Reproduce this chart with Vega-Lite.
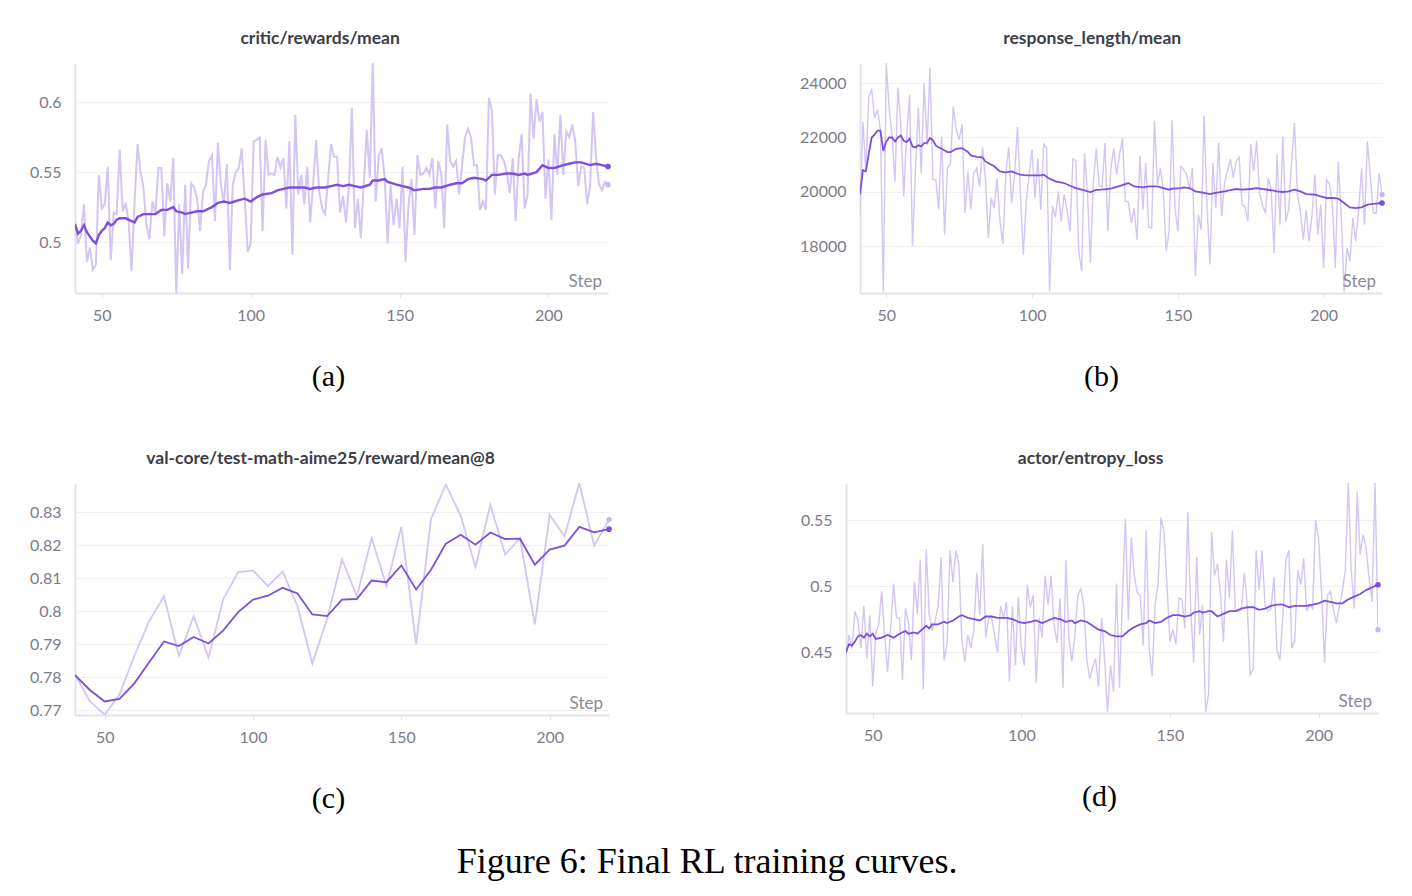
{
  "$schema": "https://vega.github.io/schema/vega-lite/v6.json",
  "background": "#ffffff",
  "padding": {"left": 29, "top": 29, "right": 10, "bottom": 10},
  "title": {"text": "Figure 6: Final RL training curves.", "orient": "bottom", "anchor": "middle", "font": "Liberation Serif", "fontSize": 36, "fontWeight": "normal", "color": "#000000", "offset": 32},
  "spacing": 58,
  "config": {
    "view": {"stroke": null},
    "axis": {"labelFont": "Lato", "labelFontSize": 16, "labelColor": "#7c7c87", "domainColor": "#e4e4e8", "domainWidth": 2, "gridColor": "#f0f0f2", "gridWidth": 1, "titleFont": "Liberation Serif", "titleFontSize": 30, "titleFontWeight": "normal", "titleColor": "#000000"},
    "axisX": {"grid": false, "ticks": true, "tickColor": "#e4e4e8", "tickSize": 5, "labelPadding": 9, "titleBaseline": "middle", "titleY": 83, "titleX": 253, "titleAlign": "center", "labelFlush": false},
    "axisY": {"grid": true, "ticks": false, "tickSize": 0, "labelPadding": 14},
    "title": {"font": "Lato", "fontSize": 17.5, "fontWeight": "bold", "color": "#3d3d47", "offset": 16, "anchor": "middle", "frame": "bounds"}
  },
  "datasets": {
    "aR": [{"s":41,"v":0.512},{"s":42,"v":0.499},{"s":43,"v":0.505},{"s":44,"v":0.527},{"s":45,"v":0.486},{"s":46,"v":0.496},{"s":47,"v":0.480},{"s":48,"v":0.484},{"s":49,"v":0.548},{"s":50,"v":0.524},{"s":51,"v":0.527},{"s":52,"v":0.554},{"s":53,"v":0.487},{"s":54,"v":0.521},{"s":55,"v":0.520},{"s":56,"v":0.566},{"s":57,"v":0.522},{"s":58,"v":0.528},{"s":59,"v":0.515},{"s":60,"v":0.479},{"s":61,"v":0.528},{"s":62,"v":0.570},{"s":63,"v":0.550},{"s":64,"v":0.539},{"s":65,"v":0.512},{"s":66,"v":0.502},{"s":67,"v":0.529},{"s":68,"v":0.520},{"s":69,"v":0.553},{"s":70,"v":0.553},{"s":71,"v":0.504},{"s":72,"v":0.542},{"s":73,"v":0.529},{"s":74,"v":0.560},{"s":75,"v":0.4636},{"s":76,"v":0.527},{"s":77,"v":0.477},{"s":78,"v":0.541},{"s":79,"v":0.481},{"s":80,"v":0.542},{"s":81,"v":0.539},{"s":82,"v":0.531},{"s":83,"v":0.508},{"s":84,"v":0.536},{"s":85,"v":0.541},{"s":86,"v":0.558},{"s":87,"v":0.562},{"s":88,"v":0.515},{"s":89,"v":0.571},{"s":90,"v":0.541},{"s":91,"v":0.528},{"s":92,"v":0.556},{"s":93,"v":0.480},{"s":94,"v":0.541},{"s":95,"v":0.550},{"s":96,"v":0.553},{"s":97,"v":0.567},{"s":98,"v":0.531},{"s":99,"v":0.493},{"s":100,"v":0.499},{"s":101,"v":0.572},{"s":102,"v":0.573},{"s":103,"v":0.575},{"s":104,"v":0.508},{"s":105,"v":0.573},{"s":106,"v":0.548},{"s":107,"v":0.549},{"s":108,"v":0.548},{"s":109,"v":0.561},{"s":110,"v":0.553},{"s":111,"v":0.560},{"s":112,"v":0.524},{"s":113,"v":0.572},{"s":114,"v":0.491},{"s":115,"v":0.591},{"s":116,"v":0.534},{"s":117,"v":0.548},{"s":118,"v":0.527},{"s":119,"v":0.554},{"s":120,"v":0.514},{"s":121,"v":0.542},{"s":122,"v":0.573},{"s":123,"v":0.536},{"s":124,"v":0.524},{"s":125,"v":0.520},{"s":126,"v":0.545},{"s":127,"v":0.570},{"s":128,"v":0.561},{"s":129,"v":0.561},{"s":130,"v":0.521},{"s":131,"v":0.533},{"s":132,"v":0.514},{"s":133,"v":0.539},{"s":134,"v":0.596},{"s":135,"v":0.510},{"s":136,"v":0.531},{"s":137,"v":0.503},{"s":138,"v":0.543},{"s":139,"v":0.580},{"s":140,"v":0.546},{"s":141,"v":0.628},{"s":142,"v":0.529},{"s":143,"v":0.562},{"s":144,"v":0.567},{"s":145,"v":0.546},{"s":146,"v":0.499},{"s":147,"v":0.541},{"s":148,"v":0.512},{"s":149,"v":0.531},{"s":150,"v":0.510},{"s":151,"v":0.554},{"s":152,"v":0.486},{"s":153,"v":0.527},{"s":154,"v":0.545},{"s":155,"v":0.505},{"s":156,"v":0.562},{"s":157,"v":0.548},{"s":158,"v":0.549},{"s":159,"v":0.553},{"s":160,"v":0.548},{"s":161,"v":0.560},{"s":162,"v":0.524},{"s":163,"v":0.558},{"s":164,"v":0.549},{"s":165,"v":0.510},{"s":166,"v":0.584},{"s":167,"v":0.558},{"s":168,"v":0.554},{"s":169,"v":0.558},{"s":170,"v":0.534},{"s":171,"v":0.555},{"s":172,"v":0.575},{"s":173,"v":0.581},{"s":174,"v":0.575},{"s":175,"v":0.555},{"s":176,"v":0.555},{"s":177,"v":0.523},{"s":178,"v":0.529},{"s":179,"v":0.523},{"s":180,"v":0.603},{"s":181,"v":0.594},{"s":182,"v":0.534},{"s":183,"v":0.562},{"s":184,"v":0.562},{"s":185,"v":0.558},{"s":186,"v":0.550},{"s":187,"v":0.535},{"s":188,"v":0.560},{"s":189,"v":0.515},{"s":190,"v":0.560},{"s":191,"v":0.577},{"s":192,"v":0.524},{"s":193,"v":0.534},{"s":194,"v":0.606},{"s":195,"v":0.574},{"s":196,"v":0.602},{"s":197,"v":0.586},{"s":198,"v":0.593},{"s":199,"v":0.531},{"s":200,"v":0.559},{"s":201,"v":0.516},{"s":202,"v":0.577},{"s":203,"v":0.548},{"s":204,"v":0.591},{"s":205,"v":0.548},{"s":206,"v":0.579},{"s":207,"v":0.575},{"s":208,"v":0.584},{"s":209,"v":0.572},{"s":210,"v":0.540},{"s":211,"v":0.554},{"s":212,"v":0.553},{"s":213,"v":0.527},{"s":214,"v":0.541},{"s":215,"v":0.593},{"s":216,"v":0.560},{"s":217,"v":0.541},{"s":218,"v":0.537},{"s":219,"v":0.543},{"s":220,"v":0.541}],
    "aS": [{"s":41,"v":0.513},{"s":42,"v":0.506},{"s":43,"v":0.508},{"s":44,"v":0.512},{"s":45,"v":0.507},{"s":46,"v":0.504},{"s":47,"v":0.501},{"s":48,"v":0.499},{"s":49,"v":0.505},{"s":50,"v":0.508},{"s":51,"v":0.510},{"s":52,"v":0.514},{"s":53,"v":0.512},{"s":54,"v":0.513},{"s":55,"v":0.516},{"s":56,"v":0.517},{"s":58,"v":0.517},{"s":60,"v":0.515},{"s":61,"v":0.514},{"s":62,"v":0.518},{"s":64,"v":0.520},{"s":65,"v":0.520},{"s":68,"v":0.520},{"s":70,"v":0.523},{"s":72,"v":0.523},{"s":74,"v":0.525},{"s":75,"v":0.522},{"s":77,"v":0.521},{"s":78,"v":0.520},{"s":80,"v":0.521},{"s":82,"v":0.522},{"s":84,"v":0.522},{"s":87,"v":0.525},{"s":89,"v":0.528},{"s":91,"v":0.529},{"s":93,"v":0.528},{"s":96,"v":0.530},{"s":98,"v":0.531},{"s":100,"v":0.529},{"s":102,"v":0.532},{"s":104,"v":0.534},{"s":107,"v":0.535},{"s":109,"v":0.537},{"s":111,"v":0.538},{"s":113,"v":0.539},{"s":116,"v":0.539},{"s":118,"v":0.539},{"s":120,"v":0.538},{"s":122,"v":0.539},{"s":125,"v":0.539},{"s":127,"v":0.540},{"s":129,"v":0.541},{"s":131,"v":0.540},{"s":133,"v":0.541},{"s":135,"v":0.540},{"s":137,"v":0.539},{"s":140,"v":0.541},{"s":141,"v":0.544},{"s":143,"v":0.544},{"s":145,"v":0.545},{"s":146,"v":0.543},{"s":149,"v":0.541},{"s":151,"v":0.540},{"s":153,"v":0.539},{"s":155,"v":0.537},{"s":158,"v":0.538},{"s":160,"v":0.538},{"s":162,"v":0.539},{"s":164,"v":0.539},{"s":167,"v":0.541},{"s":169,"v":0.542},{"s":171,"v":0.542},{"s":173,"v":0.545},{"s":175,"v":0.546},{"s":178,"v":0.545},{"s":179,"v":0.544},{"s":181,"v":0.548},{"s":183,"v":0.548},{"s":186,"v":0.549},{"s":188,"v":0.549},{"s":190,"v":0.548},{"s":192,"v":0.549},{"s":193,"v":0.548},{"s":196,"v":0.550},{"s":198,"v":0.555},{"s":200,"v":0.553},{"s":202,"v":0.553},{"s":205,"v":0.555},{"s":207,"v":0.556},{"s":209,"v":0.557},{"s":211,"v":0.557},{"s":214,"v":0.555},{"s":216,"v":0.556},{"s":218,"v":0.555},{"s":220,"v":0.554}],
    "bR": [{"s":41,"v":19160},{"s":42,"v":22590},{"s":43,"v":20750},{"s":44,"v":23510},{"s":45,"v":23755},{"s":46,"v":22715},{"s":47,"v":23020},{"s":48,"v":22285},{"s":49,"v":16340},{"s":50,"v":24735},{"s":51,"v":23080},{"s":52,"v":22100},{"s":53,"v":20390},{"s":54,"v":23840},{"s":55,"v":22470},{"s":56,"v":19835},{"s":57,"v":22100},{"s":58,"v":23570},{"s":59,"v":18000},{"s":60,"v":20750},{"s":61,"v":23105},{"s":62,"v":20690},{"s":63,"v":24000},{"s":64,"v":21730},{"s":65,"v":24550},{"s":66,"v":20450},{"s":67,"v":20450},{"s":68,"v":19345},{"s":69,"v":22040},{"s":70,"v":18425},{"s":71,"v":20875},{"s":72,"v":21025},{"s":73,"v":23140},{"s":74,"v":22285},{"s":75,"v":21920},{"s":76,"v":22490},{"s":77,"v":19220},{"s":78,"v":20750},{"s":79,"v":19345},{"s":80,"v":20690},{"s":81,"v":20875},{"s":82,"v":20200},{"s":83,"v":21635},{"s":84,"v":20510},{"s":85,"v":18300},{"s":86,"v":19775},{"s":87,"v":19405},{"s":88,"v":20510},{"s":89,"v":18915},{"s":90,"v":18085},{"s":91,"v":20690},{"s":92,"v":21635},{"s":93,"v":19590},{"s":94,"v":20630},{"s":95,"v":22385},{"s":96,"v":19960},{"s":97,"v":17690},{"s":98,"v":19650},{"s":99,"v":20655},{"s":100,"v":21550},{"s":101,"v":19775},{"s":102,"v":21245},{"s":103,"v":19345},{"s":104,"v":21760},{"s":105,"v":21610},{"s":106,"v":16340},{"s":107,"v":19470},{"s":108,"v":19065},{"s":109,"v":20020},{"s":110,"v":18915},{"s":111,"v":19920},{"s":112,"v":19310},{"s":113,"v":18550},{"s":114,"v":21210},{"s":115,"v":21145},{"s":116,"v":17840},{"s":117,"v":17080},{"s":118,"v":21430},{"s":119,"v":19960},{"s":120,"v":17385},{"s":121,"v":20330},{"s":122,"v":21590},{"s":123,"v":20265},{"s":124,"v":20140},{"s":125,"v":21795},{"s":126,"v":18550},{"s":127,"v":20875},{"s":128,"v":21600},{"s":129,"v":20630},{"s":130,"v":21365},{"s":131,"v":21980},{"s":132,"v":19650},{"s":133,"v":19650},{"s":134,"v":18855},{"s":135,"v":19405},{"s":136,"v":18240},{"s":137,"v":21340},{"s":138,"v":19345},{"s":139,"v":21060},{"s":140,"v":18700},{"s":141,"v":18670},{"s":142,"v":22615},{"s":143,"v":20265},{"s":144,"v":20875},{"s":145,"v":20040},{"s":146,"v":17815},{"s":147,"v":18550},{"s":148,"v":22650},{"s":149,"v":19405},{"s":150,"v":18550},{"s":151,"v":20940},{"s":152,"v":20815},{"s":153,"v":20630},{"s":154,"v":20080},{"s":155,"v":20875},{"s":156,"v":16895},{"s":157,"v":19160},{"s":158,"v":18610},{"s":159,"v":22810},{"s":160,"v":19470},{"s":161,"v":17325},{"s":162,"v":21060},{"s":163,"v":19405},{"s":164,"v":21795},{"s":165,"v":19100},{"s":166,"v":20330},{"s":167,"v":20750},{"s":168,"v":21210},{"s":169,"v":20510},{"s":170,"v":21120},{"s":171,"v":21270},{"s":172,"v":19530},{"s":173,"v":19470},{"s":174,"v":18915},{"s":175,"v":21760},{"s":176,"v":20750},{"s":177,"v":21880},{"s":178,"v":19960},{"s":179,"v":19530},{"s":180,"v":19220},{"s":181,"v":20510},{"s":182,"v":20080},{"s":183,"v":17750},{"s":184,"v":21395},{"s":185,"v":18795},{"s":186,"v":22040},{"s":187,"v":18915},{"s":188,"v":19345},{"s":189,"v":21120},{"s":190,"v":22530},{"s":191,"v":19900},{"s":192,"v":19285},{"s":193,"v":18240},{"s":194,"v":19310},{"s":195,"v":18180},{"s":196,"v":19160},{"s":197,"v":20655},{"s":198,"v":18425},{"s":199,"v":19530},{"s":200,"v":17200},{"s":201,"v":20450},{"s":202,"v":20290},{"s":203,"v":19530},{"s":204,"v":17200},{"s":205,"v":21120},{"s":206,"v":19220},{"s":207,"v":16340},{"s":208,"v":17940},{"s":209,"v":17450},{"s":210,"v":19040},{"s":211,"v":18180},{"s":212,"v":19345},{"s":213,"v":20875},{"s":214,"v":18795},{"s":215,"v":21855},{"s":216,"v":20570},{"s":217,"v":19220},{"s":218,"v":19220},{"s":219,"v":20690},{"s":220,"v":19900}],
    "bS": [{"s":41,"v":19900},{"s":42,"v":20800},{"s":43,"v":20750},{"s":44,"v":21400},{"s":45,"v":22000},{"s":46,"v":22100},{"s":47,"v":22250},{"s":48,"v":22250},{"s":49,"v":21500},{"s":50,"v":21850},{"s":51,"v":22000},{"s":52,"v":22000},{"s":53,"v":21850},{"s":54,"v":22000},{"s":55,"v":22075},{"s":56,"v":21880},{"s":57,"v":21830},{"s":58,"v":21955},{"s":59,"v":21670},{"s":60,"v":21635},{"s":61,"v":21710},{"s":62,"v":21670},{"s":63,"v":21795},{"s":64,"v":21800},{"s":65,"v":21980},{"s":66,"v":21900},{"s":67,"v":21710},{"s":68,"v":21635},{"s":69,"v":21585},{"s":71,"v":21465},{"s":72,"v":21465},{"s":74,"v":21585},{"s":76,"v":21610},{"s":78,"v":21465},{"s":79,"v":21340},{"s":81,"v":21290},{"s":83,"v":21270},{"s":84,"v":21120},{"s":87,"v":20940},{"s":89,"v":20750},{"s":91,"v":20720},{"s":93,"v":20750},{"s":96,"v":20630},{"s":98,"v":20610},{"s":100,"v":20610},{"s":103,"v":20610},{"s":104,"v":20630},{"s":106,"v":20485},{"s":108,"v":20385},{"s":111,"v":20325},{"s":113,"v":20225},{"s":115,"v":20140},{"s":117,"v":20080},{"s":120,"v":19995},{"s":122,"v":20070},{"s":124,"v":20080},{"s":127,"v":20115},{"s":129,"v":20180},{"s":131,"v":20250},{"s":133,"v":20325},{"s":135,"v":20200},{"s":138,"v":20165},{"s":140,"v":20200},{"s":143,"v":20200},{"s":145,"v":20140},{"s":147,"v":20080},{"s":148,"v":20115},{"s":151,"v":20140},{"s":152,"v":20165},{"s":154,"v":20140},{"s":156,"v":20020},{"s":159,"v":19960},{"s":161,"v":19920},{"s":163,"v":19960},{"s":166,"v":20020},{"s":168,"v":20060},{"s":170,"v":20105},{"s":172,"v":20080},{"s":175,"v":20105},{"s":177,"v":20140},{"s":179,"v":20105},{"s":182,"v":20060},{"s":184,"v":20020},{"s":186,"v":19995},{"s":188,"v":20020},{"s":190,"v":20080},{"s":192,"v":20020},{"s":194,"v":19920},{"s":197,"v":19900},{"s":199,"v":19835},{"s":201,"v":19775},{"s":203,"v":19775},{"s":205,"v":19750},{"s":207,"v":19590},{"s":209,"v":19430},{"s":211,"v":19405},{"s":213,"v":19430},{"s":215,"v":19530},{"s":217,"v":19555},{"s":220,"v":19590}],
    "cR": [{"s":40,"v":0.7808},{"s":45,"v":0.7727},{"s":50,"v":0.7686},{"s":55,"v":0.7747},{"s":60,"v":0.7864},{"s":65,"v":0.7970},{"s":70,"v":0.8045},{"s":75,"v":0.7864},{"s":80,"v":0.7985},{"s":85,"v":0.7859},{"s":90,"v":0.8037},{"s":95,"v":0.8118},{"s":100,"v":0.8124},{"s":105,"v":0.8076},{"s":110,"v":0.8121},{"s":115,"v":0.8015},{"s":120,"v":0.7841},{"s":125,"v":0.7977},{"s":130,"v":0.8157},{"s":135,"v":0.8045},{"s":140,"v":0.8222},{"s":145,"v":0.8076},{"s":150,"v":0.8256},{"s":155,"v":0.7899},{"s":160,"v":0.8280},{"s":165,"v":0.8384},{"s":170,"v":0.8290},{"s":175,"v":0.8134},{"s":180,"v":0.8323},{"s":185,"v":0.8172},{"s":190,"v":0.8222},{"s":195,"v":0.7960},{"s":200,"v":0.8293},{"s":205,"v":0.8227},{"s":210,"v":0.8389},{"s":215,"v":0.8199},{"s":220,"v":0.8278}],
    "cS": [{"s":40,"v":0.7806},{"s":45,"v":0.7761},{"s":50,"v":0.7726},{"s":55,"v":0.7734},{"s":60,"v":0.7781},{"s":65,"v":0.7845},{"s":70,"v":0.7908},{"s":75,"v":0.7894},{"s":80,"v":0.7922},{"s":85,"v":0.7902},{"s":90,"v":0.7942},{"s":95,"v":0.7997},{"s":100,"v":0.8035},{"s":105,"v":0.8047},{"s":110,"v":0.8071},{"s":115,"v":0.8054},{"s":120,"v":0.7990},{"s":125,"v":0.7985},{"s":130,"v":0.8035},{"s":135,"v":0.8037},{"s":140,"v":0.8093},{"s":145,"v":0.8088},{"s":150,"v":0.8139},{"s":155,"v":0.8066},{"s":160,"v":0.8126},{"s":165,"v":0.8205},{"s":170,"v":0.8232},{"s":175,"v":0.8202},{"s":180,"v":0.8239},{"s":185,"v":0.8219},{"s":190,"v":0.8220},{"s":195,"v":0.8141},{"s":200,"v":0.8187},{"s":205,"v":0.8199},{"s":210,"v":0.8256},{"s":215,"v":0.8239},{"s":220,"v":0.8249}],
    "dR": [{"s":41,"v":0.448},{"s":42,"v":0.463},{"s":43,"v":0.453},{"s":44,"v":0.481},{"s":45,"v":0.474},{"s":46,"v":0.453},{"s":47,"v":0.485},{"s":48,"v":0.445},{"s":49,"v":0.478},{"s":50,"v":0.424},{"s":51,"v":0.464},{"s":52,"v":0.471},{"s":53,"v":0.496},{"s":54,"v":0.463},{"s":55,"v":0.435},{"s":56,"v":0.467},{"s":57,"v":0.502},{"s":58,"v":0.476},{"s":59,"v":0.476},{"s":60,"v":0.429},{"s":61,"v":0.483},{"s":62,"v":0.472},{"s":63,"v":0.444},{"s":64,"v":0.503},{"s":65,"v":0.479},{"s":66,"v":0.520},{"s":67,"v":0.422},{"s":68,"v":0.528},{"s":69,"v":0.479},{"s":70,"v":0.466},{"s":71,"v":0.474},{"s":72,"v":0.485},{"s":73,"v":0.522},{"s":74,"v":0.444},{"s":75,"v":0.456},{"s":76,"v":0.527},{"s":77,"v":0.503},{"s":78,"v":0.527},{"s":79,"v":0.516},{"s":80,"v":0.458},{"s":81,"v":0.443},{"s":82,"v":0.463},{"s":83,"v":0.453},{"s":84,"v":0.467},{"s":85,"v":0.510},{"s":86,"v":0.478},{"s":87,"v":0.532},{"s":88,"v":0.461},{"s":89,"v":0.476},{"s":90,"v":0.476},{"s":91,"v":0.463},{"s":92,"v":0.450},{"s":93,"v":0.485},{"s":94,"v":0.476},{"s":95,"v":0.488},{"s":96,"v":0.428},{"s":97,"v":0.485},{"s":98,"v":0.440},{"s":99,"v":0.492},{"s":100,"v":0.453},{"s":101,"v":0.440},{"s":102,"v":0.501},{"s":103,"v":0.484},{"s":104,"v":0.493},{"s":105,"v":0.427},{"s":106,"v":0.476},{"s":107,"v":0.461},{"s":108,"v":0.508},{"s":109,"v":0.486},{"s":110,"v":0.508},{"s":111,"v":0.471},{"s":112,"v":0.457},{"s":113,"v":0.491},{"s":114,"v":0.423},{"s":115,"v":0.520},{"s":116,"v":0.461},{"s":117,"v":0.443},{"s":118,"v":0.463},{"s":119,"v":0.493},{"s":120,"v":0.498},{"s":121,"v":0.486},{"s":122,"v":0.445},{"s":123,"v":0.430},{"s":124,"v":0.439},{"s":125,"v":0.445},{"s":126,"v":0.424},{"s":127,"v":0.476},{"s":128,"v":0.445},{"s":129,"v":0.405},{"s":130,"v":0.440},{"s":131,"v":0.420},{"s":132,"v":0.502},{"s":133,"v":0.423},{"s":134,"v":0.490},{"s":135,"v":0.551},{"s":136,"v":0.474},{"s":137,"v":0.537},{"s":138,"v":0.508},{"s":139,"v":0.495},{"s":140,"v":0.493},{"s":141,"v":0.455},{"s":142,"v":0.542},{"s":143,"v":0.453},{"s":144,"v":0.432},{"s":145,"v":0.486},{"s":146,"v":0.502},{"s":147,"v":0.552},{"s":148,"v":0.541},{"s":149,"v":0.500},{"s":150,"v":0.458},{"s":151,"v":0.467},{"s":152,"v":0.456},{"s":153,"v":0.491},{"s":154,"v":0.490},{"s":155,"v":0.468},{"s":156,"v":0.556},{"s":157,"v":0.481},{"s":158,"v":0.442},{"s":159,"v":0.522},{"s":160,"v":0.463},{"s":161,"v":0.486},{"s":162,"v":0.405},{"s":163,"v":0.418},{"s":164,"v":0.541},{"s":165,"v":0.508},{"s":166,"v":0.517},{"s":167,"v":0.493},{"s":168,"v":0.458},{"s":169,"v":0.520},{"s":170,"v":0.491},{"s":171,"v":0.542},{"s":172,"v":0.481},{"s":173,"v":0.481},{"s":174,"v":0.482},{"s":175,"v":0.510},{"s":176,"v":0.486},{"s":177,"v":0.433},{"s":178,"v":0.437},{"s":179,"v":0.527},{"s":180,"v":0.497},{"s":181,"v":0.527},{"s":182,"v":0.485},{"s":183,"v":0.481},{"s":184,"v":0.483},{"s":185,"v":0.507},{"s":186,"v":0.452},{"s":187,"v":0.444},{"s":188,"v":0.478},{"s":189,"v":0.520},{"s":190,"v":0.527},{"s":191,"v":0.453},{"s":192,"v":0.459},{"s":193,"v":0.512},{"s":194,"v":0.501},{"s":195,"v":0.521},{"s":196,"v":0.481},{"s":197,"v":0.486},{"s":198,"v":0.483},{"s":199,"v":0.550},{"s":200,"v":0.536},{"s":201,"v":0.496},{"s":202,"v":0.442},{"s":203,"v":0.493},{"s":204,"v":0.496},{"s":205,"v":0.482},{"s":206,"v":0.472},{"s":207,"v":0.485},{"s":208,"v":0.496},{"s":209,"v":0.512},{"s":210,"v":0.578},{"s":211,"v":0.512},{"s":212,"v":0.483},{"s":213,"v":0.571},{"s":214,"v":0.524},{"s":215,"v":0.539},{"s":216,"v":0.529},{"s":217,"v":0.506},{"s":218,"v":0.488},{"s":219,"v":0.578},{"s":220,"v":0.467}],
    "dS": [{"s":41,"v":0.450},{"s":42,"v":0.456},{"s":43,"v":0.455},{"s":44,"v":0.458},{"s":45,"v":0.462},{"s":46,"v":0.463},{"s":47,"v":0.461},{"s":48,"v":0.464},{"s":49,"v":0.462},{"s":50,"v":0.464},{"s":51,"v":0.460},{"s":53,"v":0.461},{"s":55,"v":0.463},{"s":57,"v":0.461},{"s":59,"v":0.464},{"s":61,"v":0.466},{"s":62,"v":0.464},{"s":64,"v":0.465},{"s":65,"v":0.464},{"s":67,"v":0.468},{"s":68,"v":0.470},{"s":69,"v":0.468},{"s":70,"v":0.471},{"s":72,"v":0.471},{"s":74,"v":0.473},{"s":75,"v":0.472},{"s":77,"v":0.474},{"s":79,"v":0.477},{"s":80,"v":0.478},{"s":82,"v":0.476},{"s":84,"v":0.475},{"s":86,"v":0.474},{"s":88,"v":0.477},{"s":90,"v":0.477},{"s":92,"v":0.476},{"s":95,"v":0.476},{"s":97,"v":0.475},{"s":99,"v":0.473},{"s":101,"v":0.472},{"s":103,"v":0.473},{"s":105,"v":0.474},{"s":107,"v":0.472},{"s":109,"v":0.474},{"s":111,"v":0.476},{"s":113,"v":0.475},{"s":115,"v":0.473},{"s":117,"v":0.474},{"s":118,"v":0.472},{"s":120,"v":0.474},{"s":122,"v":0.473},{"s":124,"v":0.470},{"s":126,"v":0.467},{"s":128,"v":0.466},{"s":130,"v":0.463},{"s":132,"v":0.462},{"s":134,"v":0.462},{"s":136,"v":0.466},{"s":138,"v":0.469},{"s":140,"v":0.471},{"s":142,"v":0.472},{"s":143,"v":0.474},{"s":145,"v":0.472},{"s":147,"v":0.473},{"s":149,"v":0.476},{"s":151,"v":0.478},{"s":153,"v":0.478},{"s":155,"v":0.477},{"s":157,"v":0.478},{"s":158,"v":0.480},{"s":160,"v":0.481},{"s":161,"v":0.480},{"s":163,"v":0.481},{"s":164,"v":0.481},{"s":166,"v":0.477},{"s":168,"v":0.479},{"s":170,"v":0.481},{"s":172,"v":0.481},{"s":174,"v":0.483},{"s":176,"v":0.484},{"s":178,"v":0.484},{"s":180,"v":0.482},{"s":182,"v":0.483},{"s":184,"v":0.485},{"s":186,"v":0.486},{"s":188,"v":0.486},{"s":190,"v":0.484},{"s":192,"v":0.485},{"s":194,"v":0.485},{"s":196,"v":0.485},{"s":198,"v":0.486},{"s":200,"v":0.487},{"s":202,"v":0.489},{"s":204,"v":0.488},{"s":206,"v":0.487},{"s":208,"v":0.487},{"s":210,"v":0.490},{"s":212,"v":0.492},{"s":214,"v":0.494},{"s":216,"v":0.497},{"s":218,"v":0.499},{"s":220,"v":0.501}]
  },
  "vconcat": [
    {
      "spacing": 188,
      "hconcat": [
        {
          "width": 533, "height": 230,
          "title": "critic/rewards/mean",
          "encoding": {
            "x": {"field": "s", "type": "quantitative", "scale": {"domain": [41, 220], "nice": false, "zero": false}, "axis": {"values": [50, 100, 150, 200], "title": "(a)", "titleX": 253}},
            "y": {"field": "v", "type": "quantitative", "scale": {"domain": [0.4636, 0.628], "nice": false, "zero": false}, "axis": {"values": [0.5, 0.55, 0.6], "format": "~g", "title": null}}
          },
          "layer": [
            {"data": {"name": "aR"}, "mark": {"type": "line", "color": "#d4c5f3", "strokeWidth": 2, "clip": true}},
            {"data": {"name": "aS"}, "mark": {"type": "line", "color": "#7e4fda", "strokeWidth": 2.4, "clip": true}},
            {"data": {"name": "aR"}, "transform": [{"filter": "datum.s == 220"}], "mark": {"type": "circle", "color": "#c9b5f0", "size": 28, "opacity": 1}},
            {"data": {"name": "aS"}, "transform": [{"filter": "datum.s == 220"}], "mark": {"type": "circle", "color": "#7e4fda", "size": 32, "opacity": 1}},
            {"data": {"name": "aS"}, "transform": [{"filter": "datum.s == 220"}], "mark": {"type": "text", "text": "Step", "font": "Lato", "fontSize": 17, "color": "#8a8a94", "align": "right", "baseline": "alphabetic", "dx": -6, "dy": -6}, "encoding": {"y": {"datum": 0.4636}}}
          ]
        },
        {
          "width": 522, "height": 230,
          "title": "response_length/mean",
          "encoding": {
            "x": {"field": "s", "type": "quantitative", "scale": {"domain": [41, 220], "nice": false, "zero": false}, "axis": {"values": [50, 100, 150, 200], "title": "(b)", "titleX": 241}},
            "y": {"field": "v", "type": "quantitative", "scale": {"domain": [16280, 24740], "nice": false, "zero": false}, "axis": {"values": [18000, 20000, 22000, 24000], "format": "d", "title": null}}
          },
          "layer": [
            {"data": {"name": "bR"}, "mark": {"type": "line", "color": "#d4c5f3", "strokeWidth": 1.4, "clip": true}},
            {"data": {"name": "bS"}, "mark": {"type": "line", "color": "#7e4fda", "strokeWidth": 1.8, "clip": true}},
            {"data": {"name": "bR"}, "transform": [{"filter": "datum.s == 220"}], "mark": {"type": "circle", "color": "#c9b5f0", "size": 28, "opacity": 1}},
            {"data": {"name": "bS"}, "transform": [{"filter": "datum.s == 220"}], "mark": {"type": "circle", "color": "#7e4fda", "size": 32, "opacity": 1}},
            {"data": {"name": "bS"}, "transform": [{"filter": "datum.s == 220"}], "mark": {"type": "text", "text": "Step", "font": "Lato", "fontSize": 17, "color": "#8a8a94", "align": "right", "baseline": "alphabetic", "dx": -6, "dy": -6}, "encoding": {"y": {"datum": 16280}}}
          ]
        }
      ]
    },
    {
      "spacing": 188,
      "hconcat": [
        {
          "width": 534, "height": 232,
          "title": "val-core/test-math-aime25/reward/mean@8",
          "encoding": {
            "x": {"field": "s", "type": "quantitative", "scale": {"domain": [40, 220], "nice": false, "zero": false}, "axis": {"values": [50, 100, 150, 200], "title": "(c)", "titleX": 253}},
            "y": {"field": "v", "type": "quantitative", "scale": {"domain": [0.7685, 0.8389], "nice": false, "zero": false}, "axis": {"values": [0.77, 0.78, 0.79, 0.8, 0.81, 0.82, 0.83], "format": "~g", "title": null}}
          },
          "layer": [
            {"data": {"name": "cR"}, "mark": {"type": "line", "color": "#d4c5f3", "strokeWidth": 1.8, "clip": true}},
            {"data": {"name": "cS"}, "mark": {"type": "line", "color": "#7e4fda", "strokeWidth": 1.8, "clip": true}},
            {"data": {"name": "cR"}, "transform": [{"filter": "datum.s == 220"}], "mark": {"type": "circle", "color": "#c9b5f0", "size": 28, "opacity": 1}},
            {"data": {"name": "cS"}, "transform": [{"filter": "datum.s == 220"}], "mark": {"type": "circle", "color": "#7e4fda", "size": 32, "opacity": 1}},
            {"data": {"name": "cS"}, "transform": [{"filter": "datum.s == 220"}], "mark": {"type": "text", "text": "Step", "font": "Lato", "fontSize": 17, "color": "#8a8a94", "align": "right", "baseline": "alphabetic", "dx": -6, "dy": -6}, "encoding": {"y": {"datum": 0.7685}}}
          ]
        },
        {
          "width": 532, "height": 230,
          "title": "actor/entropy_loss",
          "encoding": {
            "x": {"field": "s", "type": "quantitative", "scale": {"domain": [41, 220], "nice": false, "zero": false}, "axis": {"values": [50, 100, 150, 200], "title": "(d)", "titleX": 253}},
            "y": {"field": "v", "type": "quantitative", "scale": {"domain": [0.404, 0.578], "nice": false, "zero": false}, "axis": {"values": [0.45, 0.5, 0.55], "format": "~g", "title": null}}
          },
          "layer": [
            {"data": {"name": "dR"}, "mark": {"type": "line", "color": "#d4c5f3", "strokeWidth": 1.4, "clip": true}},
            {"data": {"name": "dS"}, "mark": {"type": "line", "color": "#7e4fda", "strokeWidth": 1.8, "clip": true}},
            {"data": {"name": "dR"}, "transform": [{"filter": "datum.s == 220"}], "mark": {"type": "circle", "color": "#c9b5f0", "size": 28, "opacity": 1}},
            {"data": {"name": "dS"}, "transform": [{"filter": "datum.s == 220"}], "mark": {"type": "circle", "color": "#7e4fda", "size": 32, "opacity": 1}},
            {"data": {"name": "dS"}, "transform": [{"filter": "datum.s == 220"}], "mark": {"type": "text", "text": "Step", "font": "Lato", "fontSize": 17, "color": "#8a8a94", "align": "right", "baseline": "alphabetic", "dx": -6, "dy": -6}, "encoding": {"y": {"datum": 0.404}}}
          ]
        }
      ]
    }
  ]
}
